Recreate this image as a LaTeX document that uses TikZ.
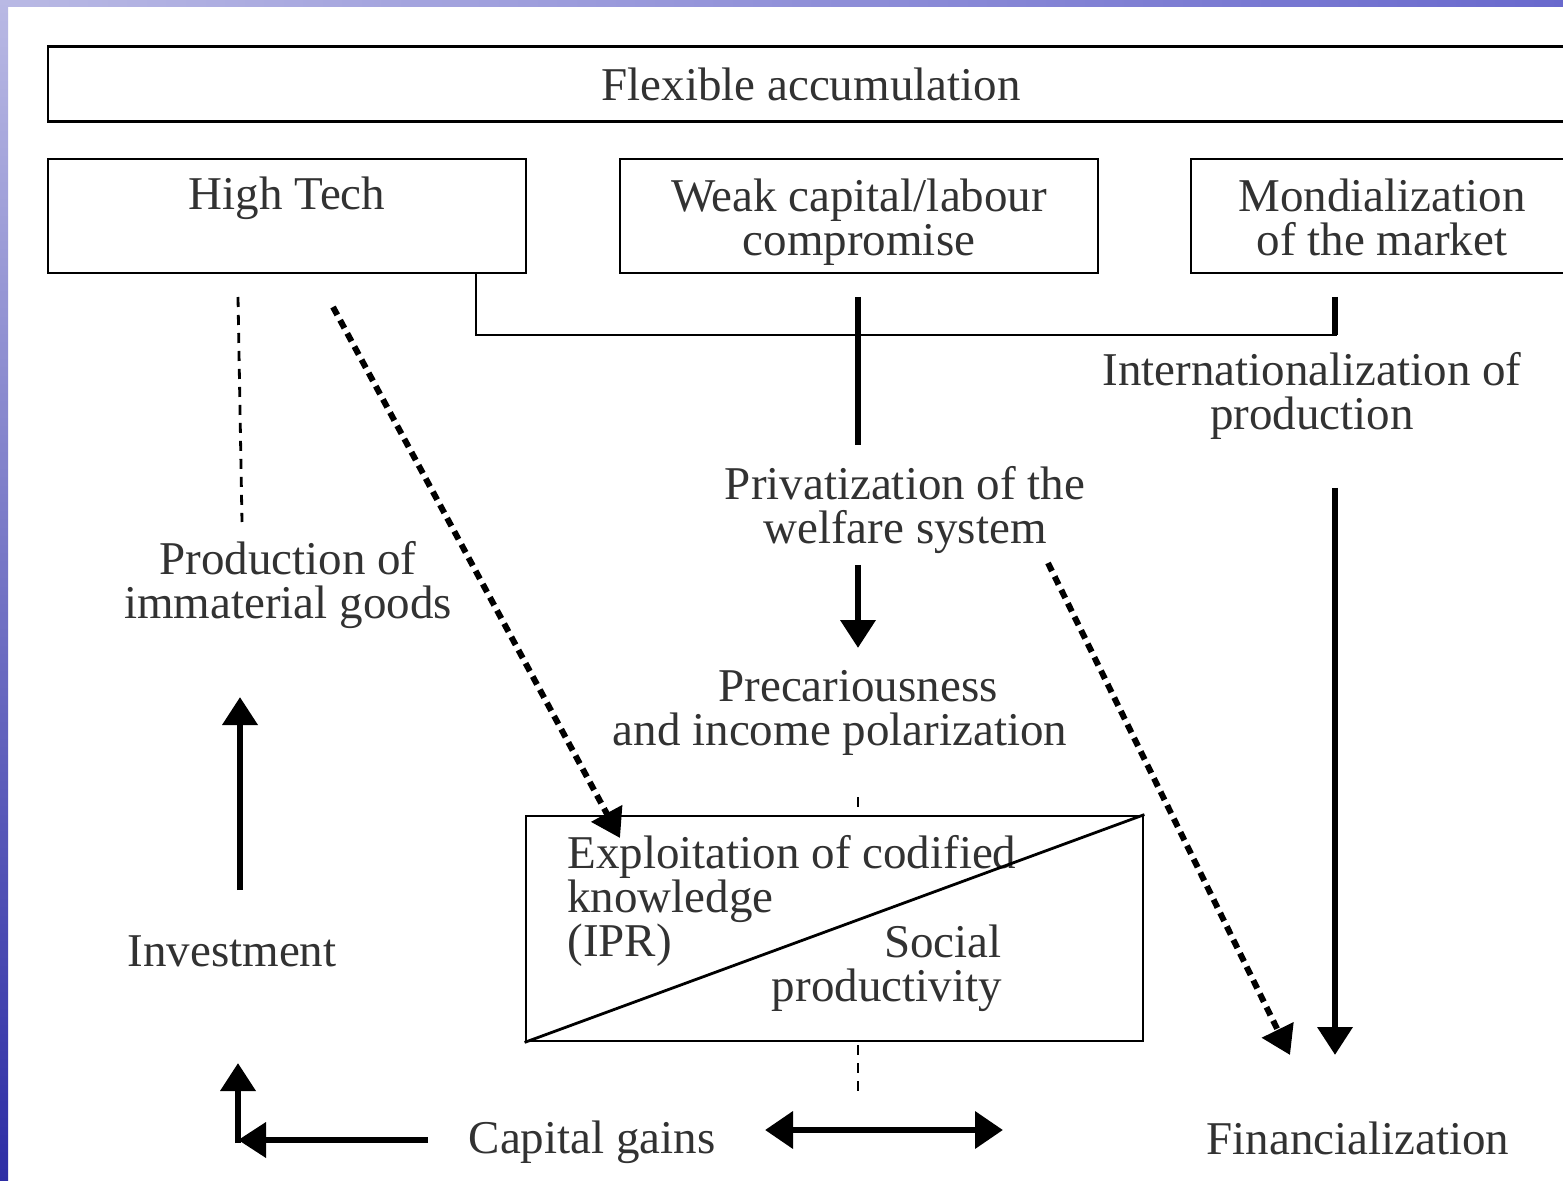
\documentclass[tikz,border=0pt]{standalone}
\usepackage{fontspec}
\setmainfont{Liberation Serif}
\usetikzlibrary{arrows.meta,calc}
\definecolor{bandlight}{RGB}{185,185,228}
\definecolor{bandmid}{RGB}{105,105,205}
\definecolor{banddark}{RGB}{45,45,165}
\definecolor{inkgray}{RGB}{50,50,50}
\newcommand\myTopRule[1]{\rule{0pt}{#1}}
\newcommand\myBotRule{\rule[-6pt]{0pt}{6pt}}
\begin{document}
\begin{tikzpicture}[x=0.5pt,y=-0.5pt,
  every node/.style={font=\fontsize{23.5}{22}\selectfont, text=inkgray},
  box/.style={draw=black, line width=1.4pt, inner sep=0pt, align=center},
  txt/.style={inner sep=0pt, align=center},
  thinline/.style={line width=1.4pt},
  thickline/.style={line width=3.4pt},
  thindash/.style={line width=1.4pt, dash pattern=on 5pt off 4pt},
  thickdash/.style={line width=3pt, dash pattern=on 4.5pt off 3pt},
  tip/.style={-{Triangle[length=14pt,width=17pt]}},
  twotip/.style={{Triangle[length=14pt,width=18pt]}-{Triangle[length=14pt,width=18pt]}}
]
\useasboundingbox (0,0) rectangle (1563,1181);
\clip (0,0) rectangle (1563,1181);
\fill[white] (0,0) rectangle (1563,1181);
\shade[left color=bandlight, right color=bandmid] (0,0) rectangle (1563,7);
\shade[top color=bandlight, bottom color=banddark] (0,0) rectangle (8,1181);

% boxes
\node[box, minimum width=763pt, minimum height=37.5pt] (flex) at (811,84) {Flexible accumulation};
\node[box, minimum width=239pt, minimum height=57pt] (ht) at (287,216) {\myTopRule{22pt}High Tech\\\myBotRule};
\node[box, minimum width=239pt, minimum height=57pt] (wk) at (859,216) {\myTopRule{24pt}Weak capital/labour\\compromise\myBotRule};
\node[box, minimum width=191pt, minimum height=57pt] (mond) at (1382,216) {\myTopRule{24pt}Mondialization\\of the market\myBotRule};
\node[box, minimum width=308.5pt, minimum height=112.5pt] (expl) at (834.5,928.5) {};

% texts
\node[txt] (intl) at (1312,396) {Internationalization of\\production};
\node[txt] (priv) at (905,510) {Privatization of the\\welfare system};
\node[txt] (prec) at (840,713) {\hspace*{18pt}Precariousness\\and income polarization};
\node[txt] (prod) at (288,585) {Production of\\immaterial goods};
\node[txt] (inv) at (232,951) {Investment};
\node[txt] (cg) at (592,1142) {Capital gains};
\node[txt] (fin) at (1358,1138) {Financialization};
\node[txt, align=left, anchor=north west] (ipr) at (567,835) {Exploitation of codified\\knowledge\\(IPR)};
\node[txt, align=right, anchor=north east] (soc) at (1002,924) {Social\\productivity};

% helper coordinates
\coordinate (htd1) at (238,297);
\coordinate (htd2) at (242,522);
\coordinate (hta) at (333,307);
\coordinate (hjoin) at (476,335);
\coordinate (mjoin) at (1337,335);
\coordinate (mtop) at (1335,297);
\coordinate (wtop) at (858,297);
\coordinate (wbot) at (858,445);
\coordinate (itop) at (1335,488);
\coordinate (ftip) at (1335,1055);
\coordinate (ptop) at (858,565);
\coordinate (ptip) at (858,648);
\coordinate (wsa) at (1048,563);
\coordinate (wstip) at (1290,1055);
\coordinate (etip) at (620,838);
\coordinate (pr1) at (858,797);
\coordinate (pr2) at (858,812);
\coordinate (ex1) at (858,1045);
\coordinate (ex2) at (858,1092);
\coordinate (dl) at (765,1130);
\coordinate (dr) at (1003,1130);
\coordinate (iv1) at (240,890);
\coordinate (iv2) at (240,697);
\coordinate (cgl) at (428,1140);
\coordinate (crn) at (238,1140);
\coordinate (crnb) at (238,1143);
\coordinate (crnt) at (238,1063);

% connectors
\draw[thindash] (htd1) -- (htd2);
\draw[thickdash, tip] (hta) -- (etip);
\draw[thinline] (ht.south -| hjoin) -- (hjoin) -- (mjoin);
\draw[thickline] (mtop) -- (mjoin -| mtop);
\draw[thickline] (wtop) -- (wbot);
\draw[thickline, tip] (itop) -- (ftip);
\draw[thickline, tip] (ptop) -- (ptip);
\draw[thickdash, tip] (wsa) -- (wstip);
\draw[thindash] (pr1) -- (pr2);
\draw[thindash] (ex1) -- (ex2);
\draw[thickline, twotip] (dl) -- (dr);
\draw[thickline, tip] (iv1) -- (iv2);
\draw[thickline, tip] (cgl) -- (crn);
\draw[thickline, tip] (crnb) -- (crnt);
\draw[thinline] (expl.south west) -- (expl.north east);
\end{tikzpicture}
\end{document}
